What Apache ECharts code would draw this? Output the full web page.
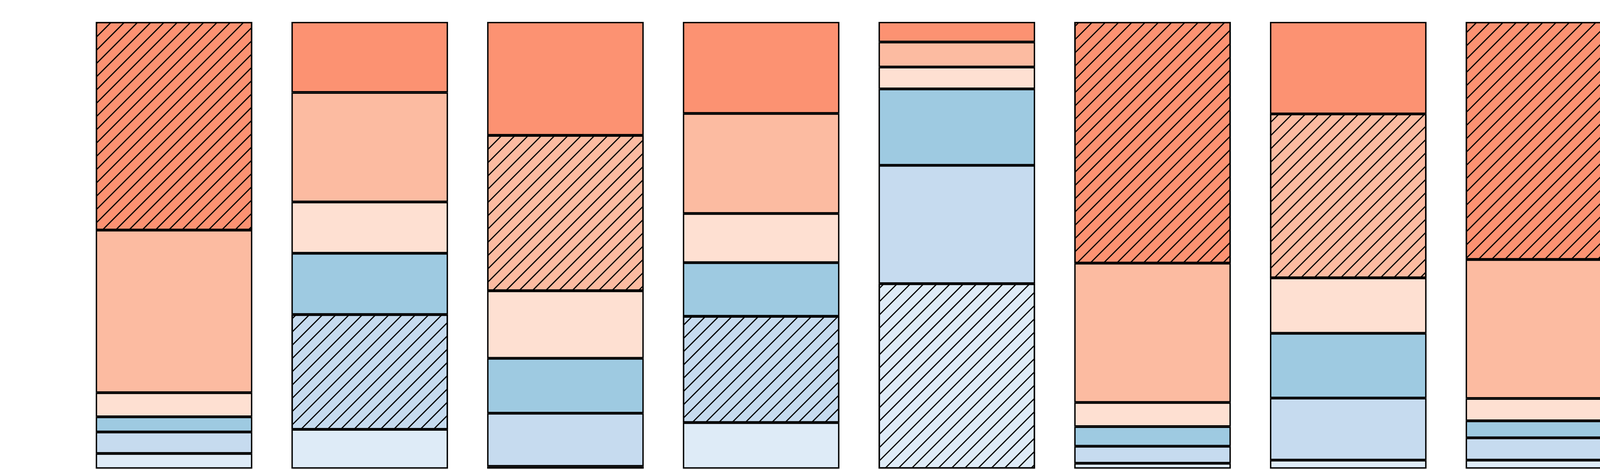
<!DOCTYPE html>
<html>
<head>
<meta charset="utf-8">
<script src="https://cdn.jsdelivr.net/npm/echarts@6/dist/echarts.min.js"></script>
<style>
  html, body { margin: 0; padding: 0; background: #fff; }
  #main { width: 5400px; height: 1200px; }
</style>
</head>
<body>
<div id="main"></div>
<script>
// ten stacked bars, each column sums to 100 (%)
var categories = ['1', '2', '3', '4', '5', '6', '7', '8', '9', '10'];

// bottom -> top
var lightestBlue = [3.4, 8.8, 0.5, 10.3, 41.4, 1.2, 1.9, 1.9, 1.2, 0.3];
var lightBlue    = [4.8, 25.7, 11.9, 23.8, 26.5, 3.8, 13.9, 5.0, 3.4, 0.5];
var midBlue      = [3.4, 13.7, 12.3, 12.0, 17.1, 4.4, 14.5, 3.8, 5.9, 0.5];
var paleRed      = [5.4, 11.5, 15.1, 11.0, 4.9, 5.4, 12.4, 5.0, 6.0, 3.7];
var lightRed     = [36.4, 24.5, 34.8, 22.4, 5.6, 31.2, 36.7, 31.1, 21.6, 30.4];
var red          = [46.6, 15.8, 25.4, 20.5, 4.5, 54.0, 20.6, 53.2, 61.9, 64.6];

var layers = [lightestBlue, lightBlue, midBlue, paleRed, lightRed, red];
var colors = ['#deebf7', '#c6dbef', '#9ecae1', '#fee0d2', '#fcbba1', '#fc9272'];

var chart = echarts.init(document.getElementById('main'), null, { renderer: 'canvas' });

var hatch = {
  symbol: 'rect',
  symbolSize: 1,
  symbolKeepAspect: false,
  color: '#000',
  dashArrayX: [1, 0],
  dashArrayY: [3, 21],
  rotation: -Math.PI / 4
};

// the biggest block of every bar gets the hatch
function isBiggest(layerIdx, barIdx) {
  var best = 0;
  for (var k = 1; k < layers.length; k++) {
    if (layers[k][barIdx] > layers[best][barIdx]) best = k;
  }
  return best === layerIdx;
}

var series = [];
for (var s = 0; s < layers.length; s++) {
  var data = [];
  for (var i = 0; i < categories.length; i++) {
    var item = { value: layers[s][i] };
    if (isBiggest(s, i)) {
      item.itemStyle = { decal: hatch };
    }
    data.push(item);
  }
  series.push({
    name: 'level' + (s + 1),
    type: 'bar',
    stack: 'total',
    barCategoryGap: '20%',
    data: data,
    itemStyle: {
      color: colors[s],
      borderColor: '#000',
      borderWidth: 3.5
    }
  });
}

var option = {
  animation: false,
  backgroundColor: '#fff',
  grid: {
    left: 195,
    right: 195,
    top: 56,
    bottom: 1
  },
  xAxis: {
    type: 'category',
    data: categories,
    show: false
  },
  yAxis: {
    type: 'value',
    min: 0,
    max: 100,
    show: false
  },
  series: series
};

chart.setOption(option);
</script>
</body>
</html>
